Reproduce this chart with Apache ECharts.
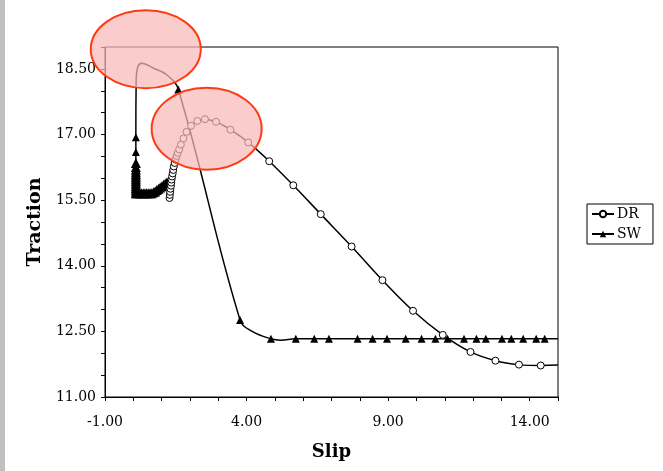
<!DOCTYPE html>
<html>
<head>
<meta charset="utf-8">
<script src="https://cdn.jsdelivr.net/npm/echarts@6/dist/echarts.min.js"></script>
<style>
  html, body { margin: 0; padding: 0; background: #fff; }
  #chart { width: 663px; height: 471px; }
</style>
</head>
<body>
<div id="chart"></div>
<script>
// DR: open circles
const drSlip = [1.28, 1.29, 1.30, 1.31, 1.33, 1.34, 1.35, 1.37, 1.39, 1.41, 1.43, 1.46, 1.49, 1.53, 1.57, 1.62, 1.68, 1.77,
  1.88, 2.04, 2.26, 2.53, 2.92, 3.43, 4.06, 4.80, 5.65, 6.62, 7.71, 8.80, 9.88, 10.93, 11.91, 12.79, 13.62, 14.39, 15.0];
const drTraction = [15.55, 15.62, 15.69, 15.76, 15.83, 15.90, 15.97, 16.04, 16.11, 16.19, 16.27, 16.35, 16.43, 16.51, 16.58, 16.66, 16.77, 16.91,
  17.06, 17.20, 17.31, 17.35, 17.29, 17.11, 16.82, 16.39, 15.84, 15.18, 14.44, 13.67, 12.97, 12.42, 12.03, 11.83, 11.74, 11.72, 11.73];
const drCurveOnly = [36];

// SW: filled triangles (dense run near the start reads as a solid band)
const swSlip = [
  1.19, 1.13, 1.07, 1.01, 0.95, 0.89, 0.83, 0.77, 0.71, 0.65,
  0.59, 0.53, 0.47, 0.41, 0.35, 0.29, 0.23, 0.17, 0.11, 0.09,
  0.09, 0.09, 0.09, 0.09, 0.09, 0.09, 0.09, 0.09, 0.09, 0.09, 0.09, 0.09, 0.09, 0.09, 0.09, 0.09, 0.09,
  0.10, 0.16, 0.30, 0.70, 1.19, 1.59, 3.77, 4.20, 4.86, 5.20,
  5.74, 6.39, 6.91, 7.92, 8.45, 8.96, 9.62, 10.18, 10.67, 11.10, 11.68, 12.12, 12.45, 13.02, 13.35, 13.77, 14.23, 14.53,
  15.0];
const swTraction = [
  15.91, 15.88, 15.85, 15.82, 15.79, 15.76, 15.73, 15.70, 15.68, 15.66,
  15.66, 15.66, 15.66, 15.66, 15.66, 15.66, 15.66, 15.66, 15.66, 15.66,
  15.70, 15.74, 15.78, 15.82, 15.86, 15.90, 15.94, 15.98, 16.02, 16.06, 16.10, 16.15, 16.20, 16.26, 16.35, 16.60, 16.94,
  18.20, 18.55, 18.63, 18.52, 18.36, 18.03, 12.76, 12.50, 12.33, 12.30,
  12.33, 12.33, 12.33, 12.33, 12.33, 12.33, 12.33, 12.33, 12.33, 12.33, 12.33, 12.33, 12.33, 12.33, 12.33, 12.33, 12.33, 12.33,
  12.33];
const swCurveOnly = [37, 38, 39, 40, 41, 44, 46, 65];

const xTickLabels = ['-1.00', '4.00', '9.00', '14.00'];
const yTickLabels = ['11.00', '12.50', '14.00', '15.50', '17.00', '18.50'];

const FONT = 'DejaVu Serif';

function points(xs, ys, curveOnly) {
  return xs.map((x, i) => curveOnly.includes(i)
    ? { value: [x, ys[i]], symbol: 'none' }
    : [x, ys[i]]);
}

function pickLabel(list) {
  return function (v) {
    const s = v.toFixed(2);
    return list.includes(s) ? s : '';
  };
}

const chart = echarts.init(document.getElementById('chart'));

chart.setOption({
  animation: false,
  backgroundColor: '#fff',
  grid: {
    left: 105, right: 105, top: 47, bottom: 74,
    containLabel: false,
    show: true,
    borderColor: '#000',
    borderWidth: 1,
    backgroundColor: 'transparent'
  },
  legend: {
    orient: 'vertical',
    left: 587,
    top: 204,
    data: ['DR', 'SW'],
    itemWidth: 22,
    itemHeight: 8,
    itemGap: 6,
    padding: [3, 12, 3, 4],
    borderColor: '#000',
    borderWidth: 1,
    textStyle: { fontFamily: FONT, fontSize: 14, color: '#000', padding: [0, 0, 0, -2] }
  },
  xAxis: {
    type: 'value',
    min: -1,
    max: 15,
    interval: 1,
    name: 'Slip',
    nameLocation: 'middle',
    nameGap: 46,
    nameTextStyle: { fontFamily: FONT, fontSize: 18, fontWeight: 'bold', color: '#000' },
    axisLine: { show: true, onZero: false, lineStyle: { color: '#000', width: 1 } },
    axisTick: { show: true, inside: false, length: 4, lineStyle: { color: '#000' } },
    splitLine: { show: false },
    axisLabel: {
      interval: 0,
      margin: 18,
      fontFamily: FONT,
      fontSize: 14,
      color: '#000',
      formatter: pickLabel(xTickLabels)
    }
  },
  yAxis: {
    type: 'value',
    min: 11,
    max: 19,
    interval: 0.5,
    name: 'Traction',
    nameLocation: 'middle',
    nameGap: 59,
    nameTextStyle: { fontFamily: FONT, fontSize: 19, fontWeight: 'bold', color: '#000' },
    axisLine: { show: true, onZero: false, lineStyle: { color: '#000', width: 1 } },
    axisTick: { show: true, inside: false, length: 4, lineStyle: { color: '#000' } },
    splitLine: { show: false },
    axisLabel: {
      interval: 0,
      margin: 9,
      fontFamily: FONT,
      fontSize: 14,
      color: '#000',
      formatter: pickLabel(yTickLabels)
    }
  },
  series: [
    {
      name: 'SW',
      type: 'line',
      smooth: 0.4,
      showAllSymbol: true,
      symbol: 'triangle',
      // the tightly packed run at the start is drawn a little heavier
      symbolSize: function (val, params) { return params.dataIndex < 35 ? 10 : 8; },
      lineStyle: { color: '#000', width: 1.5 },
      itemStyle: { color: '#000', borderColor: '#000', borderWidth: 0 },
      emphasis: { disabled: true },
      data: points(swSlip, swTraction, swCurveOnly)
    },
    {
      name: 'DR',
      type: 'line',
      smooth: 0.4,
      showAllSymbol: true,
      symbol: 'circle',
      symbolSize: 7,
      lineStyle: { color: '#000', width: 1.5 },
      itemStyle: { color: '#fff', borderColor: '#000', borderWidth: 1 },
      emphasis: { disabled: true },
      data: points(drSlip, drTraction, drCurveOnly)
    }
  ]
});

// highlight ellipses, centred on data positions
const c1 = chart.convertToPixel({ gridIndex: 0 }, [0.44, 18.95]);
const c2 = chart.convertToPixel({ gridIndex: 0 }, [2.59, 17.13]);
const ellipseStyle = { fill: 'rgba(250,185,185,0.72)', stroke: '#ff3a12', lineWidth: 2 };

chart.setOption({
  graphic: [
    { type: 'rect', left: 0, top: 0, z: 100, shape: { width: 5, height: 471 }, style: { fill: '#c0c0c0' } },
    { type: 'ellipse', z: 100, shape: { cx: c1[0], cy: c1[1], rx: 55, ry: 39 }, style: ellipseStyle },
    { type: 'ellipse', z: 100, shape: { cx: c2[0], cy: c2[1], rx: 55, ry: 41 }, style: ellipseStyle }
  ]
});
</script>
</body>
</html>
